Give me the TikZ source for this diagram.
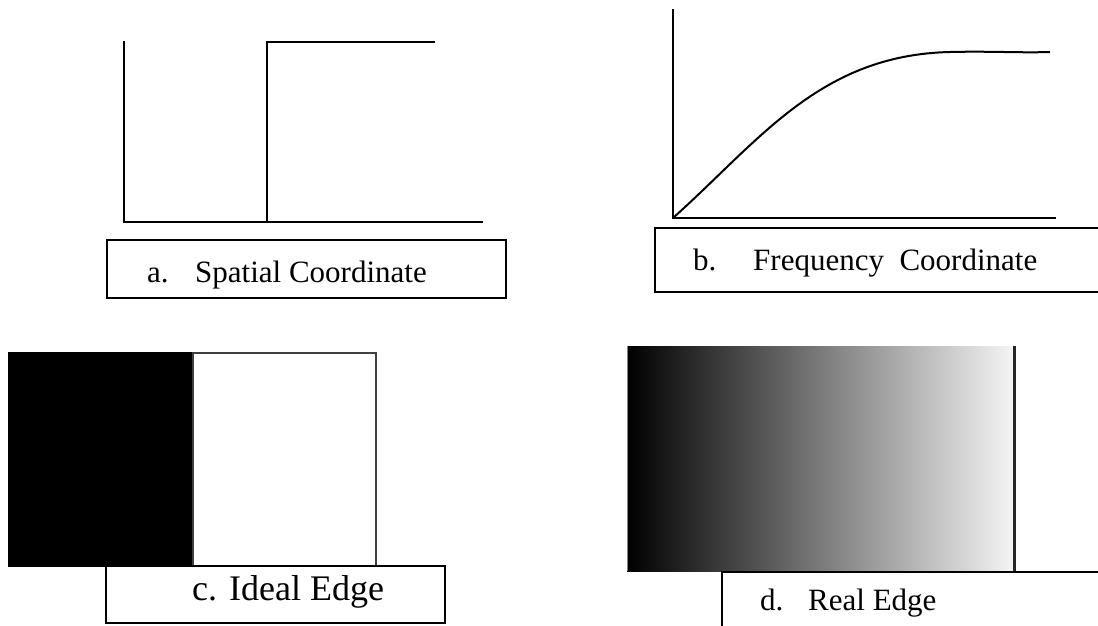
\documentclass[tikz,border=0pt]{standalone}
\usepackage{fontspec}
\setmainfont{Liberation Serif}
\begin{document}
\begin{tikzpicture}[x=1pt,y=-1pt,
  axis/.style={line width=2.2pt,line cap=rect},
  frame/.style={line width=2pt},
  lbl/.style={anchor=base west,inner sep=0pt,font=\fontsize{31}{36}\selectfont},
  lblbig/.style={anchor=base west,inner sep=0pt,font=\fontsize{36}{42}\selectfont}]
\useasboundingbox[fill=white] (0,0) rectangle (1098,626);
% ---- panel a : spatial step
\coordinate (aTop) at (124,42);
\coordinate (aO) at (124,222);
\coordinate (aEnd) at (482,222);
\coordinate (sBot) at (267,222);
\coordinate (sTop) at (267,42);
\coordinate (sEnd) at (434,42);
\draw[axis] (aTop) -- (aO) -- (aEnd);
\draw[axis] (sBot) -- (sTop) -- (sEnd);
\draw[frame] (107,240) rectangle (506,298);
\node[lbl] (la) at (147,282) {a.};
\node[lbl] (la2) at (195,282) {Spatial Coordinate};
% ---- panel b : frequency curve
\coordinate (bTop) at (673,10);
\coordinate (bO) at (673,218);
\coordinate (bEnd) at (1055,218);
\coordinate (cKnee) at (950,52);
\coordinate (cEnd) at (1050,52);
\draw[axis] (bTop) -- (bO) -- (bEnd);
\draw[line width=2pt] (bO) .. controls (760,140) and (820,55) .. (cKnee)
  .. controls (990,51) and (1020,53) .. (cEnd);
\draw[frame] (1100,228) -- (655,228) -- (655,292) -- (1100,292);
\node[lbl] (lb) at (693,270) {b.};
\node[lbl] (lb2) at (753,270) {Frequency\ \ Coordinate};
% ---- panel c : ideal edge
\fill[black] (8,352) rectangle (193,567);
\draw[line width=1.2pt,black!75] (193,353) rectangle (376,566);
\draw[frame] (106,566) rectangle (445,623);
\node[lblbig] (lc) at (192,600) {c. Ideal Edge};
% ---- panel d : real edge
\shade[left color=black,right color=black!4] (627,346) rectangle (1014,571);
\draw[line width=1pt,black!50] (627,346) -- (627,571);
\draw[line width=3pt,black!85] (1014,346) -- (1014,571);
\draw[frame] (1100,572) -- (722,572) -- (722,630);
\node[lbl] (ld) at (760,610) {d.};
\node[lbl] (ld2) at (808,610) {Real Edge};
\end{tikzpicture}
\end{document}
